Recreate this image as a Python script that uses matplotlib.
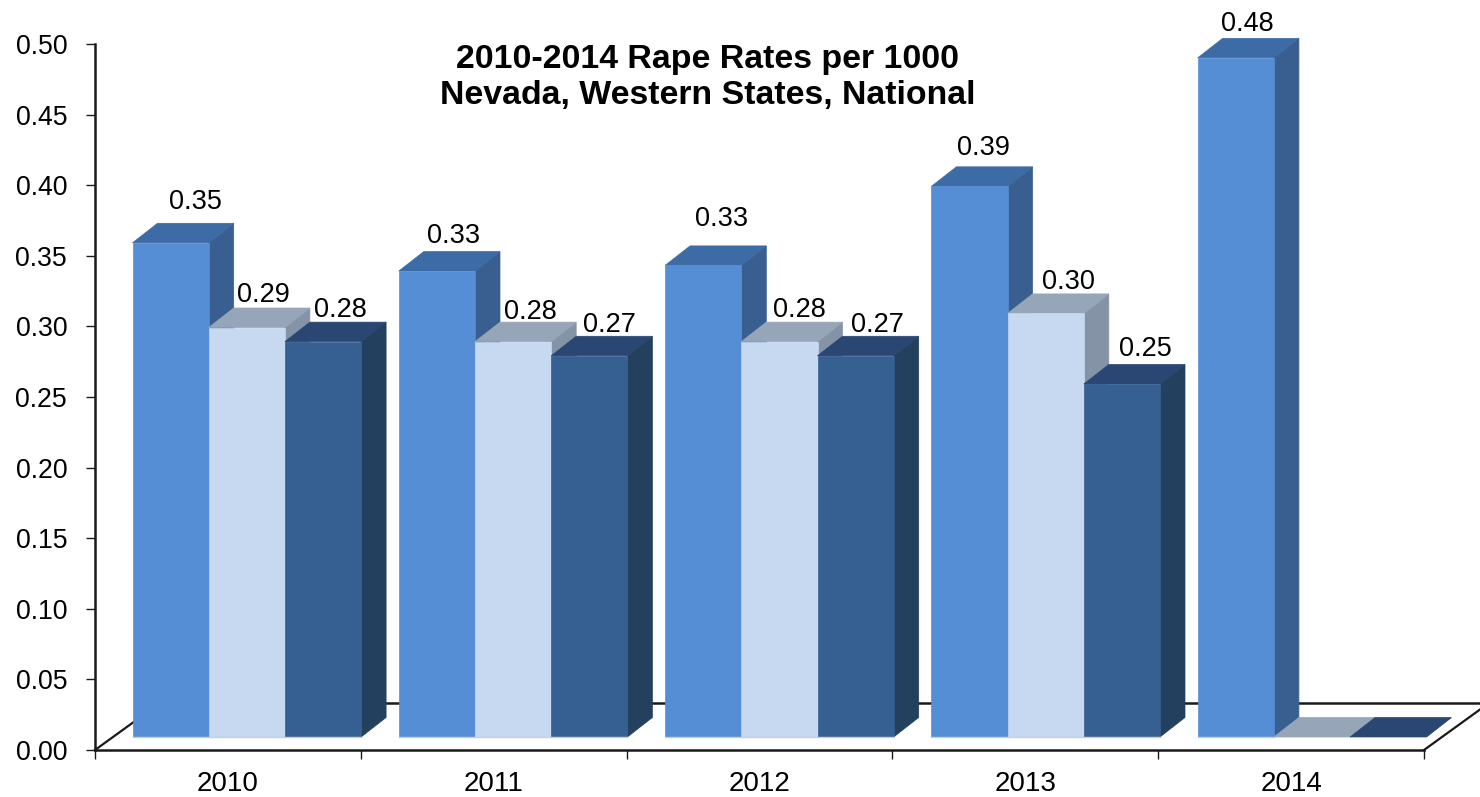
import numpy as np
import matplotlib
matplotlib.use('Agg')
import matplotlib.pyplot as plt
from matplotlib.patches import Polygon

plt.rcParams['font.family'] = ['Liberation Sans', 'DejaVu Sans']

years = ['2010', '2011', '2012', '2013', '2014']
nevada = [0.35, 0.33, 0.334, 0.39, 0.481]
western = [0.29, 0.28, 0.28, 0.30, 0.0]
national = [0.28, 0.27, 0.27, 0.25, 0.0]
title = '2010-2014 Rape Rates per 1000\nNevada, Western States, National'

# label nudges in pixels, the original has them placed by hand
nudge_nevada = [(25, 41), (17, 35), (18, 46), (14, 38), (12, 34)]
nudge_western = [(17, 33), (17, 30), (20, 32), (23, 31), None]
nudge_national = [(17, 32), (20, 31), (22, 31), (23, 35), None]

# front, top, side
colors = [('#558ed5', '#3d6ba6', '#385f90'),
          ('#c6d9f1', '#97a5b9', '#8494a6'),
          ('#376092', '#2a4672', '#24405f')]
line_col = '#1a1a1a'

W, H = 1480, 797
x0, x1 = 95, 1424
y_top, y_bot = 44, 750

fig = plt.figure(figsize=(W / 100, H / 100), dpi=100)
ax = fig.add_axes([x0 / W, 1 - y_bot / H, (x1 - x0) / W, (y_bot - y_top) / H])
ax.set_xlim(0, 5)
ax.set_ylim(0, 0.5)

px = 5 / (x1 - x0)
py = 0.5 / (y_bot - y_top)
depth_x, depth_y = 25 * px, 19.5 * py
base = 13 * py
bar_w = 76.2 * px
margin = 37.5 * px
step = 266.3 * px

# floor
floor_x, floor_y = 65 * px, 47 * py
ax.add_patch(Polygon([(0, 0), (floor_x, floor_y), (5 + floor_x, floor_y), (5, 0)],
                     closed=True, fc='white', ec='none', clip_on=False, zorder=1))
ax.plot([0, floor_x], [0, floor_y], color=line_col, lw=1.6, clip_on=False, zorder=1.5)
ax.plot([floor_x, 5 + floor_x], [floor_y, floor_y], color=line_col, lw=1.8, clip_on=False, zorder=1.5)
ax.plot([5, 5 + floor_x], [0, floor_y], color=line_col, lw=1.6, clip_on=False, zorder=1.5)

series = [nevada, western, national]
nudges = [nudge_nevada, nudge_western, nudge_national]
z = 2
for i in range(len(years)):
    for j in range(3):
        v = series[j][i]
        left = i * step + margin + j * bar_w
        right = left + bar_w
        top = base + v
        front, top_c, side = colors[j]
        ax.add_patch(Polygon([(right, base), (right + depth_x, base + depth_y),
                              (right + depth_x, top + depth_y), (right, top)],
                             closed=True, fc=side, ec=side, lw=0.5, clip_on=False, zorder=z))
        ax.add_patch(Polygon([(left, top), (left + depth_x, top + depth_y),
                              (right + depth_x, top + depth_y), (right, top)],
                             closed=True, fc=top_c, ec=top_c, lw=0.5, clip_on=False, zorder=z + 0.1))
        if v > 0:
            ax.bar(left, v, bar_w, bottom=base, align='edge', color=front, zorder=z + 0.2,
                   edgecolor=front, linewidth=0.5, clip_on=False)
            ax.plot([left, right], [base, base], color='#c9ced6', lw=1, clip_on=False, zorder=z + 0.3)
        n = nudges[j][i]
        if n is not None:
            ax.annotate(f'{v:.2f}', (left + bar_w / 2, top), xytext=n, textcoords='offset pixels',
                        ha='center', va='center', fontsize=19.5, color='black',
                        annotation_clip=False, zorder=50)
        z += 1

for s in ['top', 'right']:
    ax.spines[s].set_visible(False)
for s in ['left', 'bottom']:
    ax.spines[s].set_linewidth(1.8)
    ax.spines[s].set_color(line_col)
    ax.spines[s].set_zorder(40)

ax.set_yticks(np.arange(0, 0.51, 0.05))
ax.set_yticklabels([f'{t:.2f}' for t in np.arange(0, 0.51, 0.05)])
ax.tick_params(axis='y', length=6.5, width=1, color=line_col, labelsize=19.2, pad=13.5)
ax.set_xticks(range(6))
ax.set_xticklabels([])
ax.set_xticks(np.arange(len(years)) + 0.5, minor=True)
ax.set_xticklabels(years, minor=True)
ax.tick_params(axis='x', which='major', length=6.5, width=1, color=line_col)
ax.tick_params(axis='x', which='minor', length=0, labelsize=20, pad=15)

ax.text((708 - x0) / (x1 - x0), 1 - (77.5 - y_top) / (y_bot - y_top), title, transform=ax.transAxes,
        ha='center', va='center', fontsize=24.4, fontweight='bold', linespacing=1.2, zorder=60)

fig.savefig('out.png', dpi=100)
